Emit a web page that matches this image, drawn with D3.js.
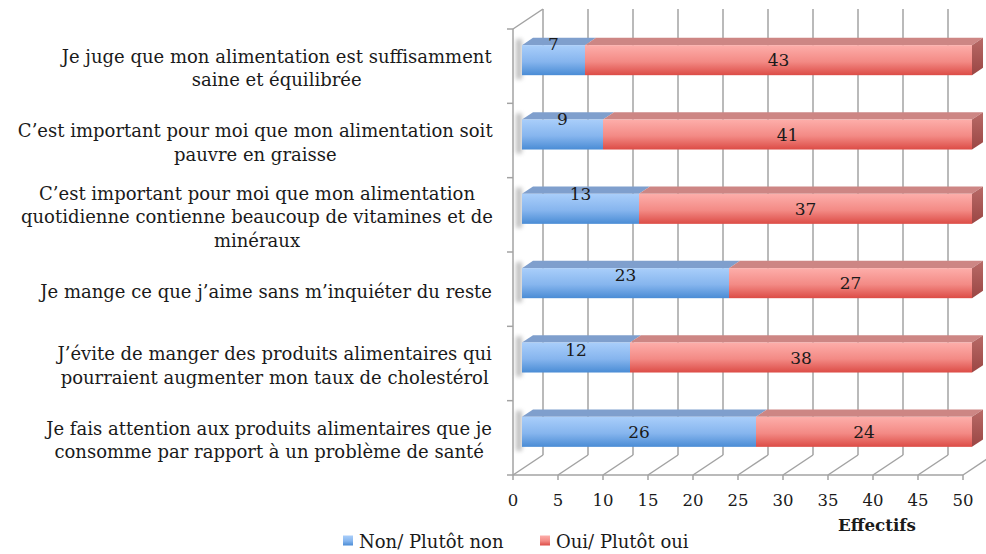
<!DOCTYPE html>
<html>
<head>
<meta charset="utf-8">
<script src="https://cdn.jsdelivr.net/npm/d3@7"></script>
<style>
  body { margin: 0; background: #fff; }
  text { font-family: "DejaVu Serif", serif; fill: #1a1a1a; }
</style>
</head>
<body>
<svg id="chart" width="986" height="554"></svg>
<script>
const categories = [
    "Je juge que mon alimentation est suffisamment\nsaine et équilibrée",
    "C’est important pour moi que mon alimentation soit\npauvre en graisse",
    "C’est important pour moi que mon alimentation\nquotidienne contienne beaucoup de vitamines et de\nminéraux",
    "Je mange ce que j’aime sans m’inquiéter du reste",
    "J’évite de manger des produits alimentaires qui\npourraient augmenter mon taux de cholestérol",
    "Je fais attention aux produits alimentaires que je\nconsomme par rapport à un problème de santé",
];
const nonValues = [7, 9, 13, 23, 12, 26];
const ouiValues = [43, 41, 37, 27, 38, 24];
const seriesNames = ["Non/ Plutôt non", "Oui/ Plutôt oui"];
const xTicks = [0, 5, 10, 15, 20, 25, 30, 35, 40, 45, 50];
const axisTitle = "Effectifs";

// 3d depth: full depth of the box in px
const DX = 30, DY = 20;
const barFront = 0.3, barBack = 0.667;
// excel pushed the small "non" labels up a bit
const labelLift = [16, 16, 15, 8, 8, 0];

const svg = d3.select("#chart");

const x = d3.scaleLinear().domain([0, 50]).range([513, 963]);
const y = d3.scaleBand().domain(d3.range(categories.length)).range([29, 475])
    .paddingInner(0.596).paddingOuter(0.298);
const yTop = 29, yBottom = 475;

const P = (v, yy, depth) => [x(v) + depth * DX, yy - depth * DY];

const defs = svg.append("defs");
function grad(id, stops) {
    const g = defs.append("linearGradient").attr("id", id)
        .attr("x1", 0).attr("y1", 0).attr("x2", 0).attr("y2", 1);
    stops.forEach((s) => g.append("stop").attr("offset", s[0]).attr("stop-color", s[1]));
}
grad("gBlue", [[0, "#a9cefa"], [0.55, "#86b5ee"], [1, "#4a8cd5"]]);
grad("gRed", [[0, "#fdaeaa"], [0.55, "#f38a85"], [1, "#dc4c46"]]);
grad("gRedSide", [[0, "#b86a67"], [1, "#9b4644"]]);
defs.append("filter").attr("id", "blur").attr("x", -1).attr("y", -1).attr("width", 3).attr("height", 3)
    .append("feGaussianBlur").attr("stdDeviation", 2.2);

const colors = [
    { front: "url(#gBlue)", top: "#7f9fcd", side: "#5a7fb5" },
    { front: "url(#gRed)", top: "#cd8684", side: "url(#gRedSide)" },
];

const grid = svg.append("g").attr("stroke", "#a3a3a3").attr("stroke-width", 1.5).attr("fill", "none");

// back wall gridlines
grid.selectAll(".back").data(xTicks).enter().append("line")
    .attr("x1", (d) => P(d, yTop, 1)[0]).attr("y1", (d) => P(d, yTop, 1)[1])
    .attr("x2", (d) => P(d, yBottom, 1)[0]).attr("y2", (d) => P(d, yBottom, 1)[1]);
// floor diagonals
grid.selectAll(".floor").data(xTicks).enter().append("line")
    .attr("x1", (d) => x(d)).attr("y1", yBottom)
    .attr("x2", (d) => P(d, yBottom, 1)[0]).attr("y2", (d) => P(d, yBottom, 1)[1]);
// left wall
grid.append("line").attr("x1", x(0)).attr("y1", yTop).attr("x2", x(0)).attr("y2", yBottom);
grid.append("line").attr("x1", x(0)).attr("y1", yTop).attr("x2", P(0, yTop, 1)[0]).attr("y2", P(0, yTop, 1)[1]);
grid.append("line").attr("x1", x(0)).attr("y1", yBottom).attr("x2", x(50)).attr("y2", yBottom);
// category ticks
const catBounds = d3.range(categories.length + 1).map((i) => yTop + i * y.step());
grid.selectAll(".ct").data(catBounds).enter().append("line")
    .attr("x1", x(0) - 6).attr("x2", x(0)).attr("y1", (d) => d).attr("y2", (d) => d);
// value ticks
grid.selectAll(".vt").data(xTicks).enter().append("line")
    .attr("x1", (d) => x(d)).attr("x2", (d) => x(d)).attr("y1", yBottom).attr("y2", yBottom + 5);

// bars
const stacks = categories.map((c, i) => {
    const a = nonValues[i], b = ouiValues[i];
    return [{ i, s: 0, v0: 0, v1: a, v: a }, { i, s: 1, v0: a, v1: a + b, v: b }];
});

const bars = svg.append("g");
const poly = (pts) => "M" + pts.map((p) => p.join(",")).join("L") + "Z";

stacks.forEach((segs, i) => {
    const y0 = y(i), y1 = y(i) + y.bandwidth();
    const g = bars.append("g");
    // soft shadow on the left end
    const sl = P(0, y0, barFront);
    g.append("rect").attr("x", sl[0] - 6).attr("y", sl[1] - 6)
        .attr("width", 6).attr("height", y.bandwidth() + 10)
        .attr("fill", "#8a8a8a").attr("opacity", 0.55).attr("filter", "url(#blur)");
    segs.forEach((d, k) => {
        const c = colors[d.s];
        // top
        g.append("path").attr("fill", c.top)
            .attr("d", poly([P(d.v0, y0, barFront), P(d.v1, y0, barFront), P(d.v1, y0, barBack), P(d.v0, y0, barBack)]));
        // front
        const f0 = P(d.v0, y0, barFront), f1 = P(d.v1, y1, barFront);
        g.append("rect").attr("x", f0[0]).attr("y", f0[1])
            .attr("width", f1[0] - f0[0]).attr("height", f1[1] - f0[1]).attr("fill", c.front);
        if (k === segs.length - 1) {
            g.append("path").attr("fill", c.side)
                .attr("d", poly([P(d.v1, y0, barFront), P(d.v1, y0, barBack), P(d.v1, y1, barBack), P(d.v1, y1, barFront)]));
        }
    });
    segs.forEach((d) => {
        const c = P((d.v0 + d.v1) / 2, y0 + y.bandwidth() / 2, barFront);
        g.append("text").attr("x", c[0]).attr("y", c[1] - (d.s === 0 ? labelLift[i] : 0))
            .attr("text-anchor", "middle").attr("dominant-baseline", "central")
            .attr("font-size", 17).text(d.v);
    });
});

// category labels
const lab = svg.append("g");
categories.forEach((c, i) => {
    const lines = c.split("\n");
    const cy = yTop + (i + 0.5) * y.step() + 2;
    const lh = 23.3;
    const t = lab.append("text").attr("text-anchor", "middle").attr("font-size", 18);
    lines.forEach((l, j) => {
        t.append("tspan").attr("x", 0).attr("y", cy + (j - (lines.length - 1) / 2) * lh)
            .attr("dominant-baseline", "central").text(l);
    });
    // right-align the block, lines centred inside it
    const w = t.node().getBBox().width;
    t.attr("transform", `translate(${493 - w / 2},0)`);
});

// x tick labels
svg.append("g").selectAll("text").data(xTicks).enter().append("text")
    .attr("x", (d) => x(d)).attr("y", 500).attr("dominant-baseline", "central")
    .attr("text-anchor", "middle").attr("font-size", 16.5).text((d) => d);

svg.append("text").attr("x", 877).attr("y", 525).attr("dominant-baseline", "central")
    .attr("text-anchor", "middle").attr("font-size", 16.7).attr("font-weight", "bold").text(axisTitle);

// legend
const leg = svg.append("g");
const legX = [343, 540];
seriesNames.forEach((n, k) => {
    leg.append("rect").attr("x", legX[k]).attr("y", 535.5).attr("width", 10).attr("height", 10)
        .attr("fill", k === 0 ? "url(#gBlue)" : "url(#gRed)");
    leg.append("text").attr("x", legX[k] + 16).attr("y", 541.5).attr("dominant-baseline", "central")
        .attr("font-size", 18).text(n);
});
</script>
</body>
</html>
